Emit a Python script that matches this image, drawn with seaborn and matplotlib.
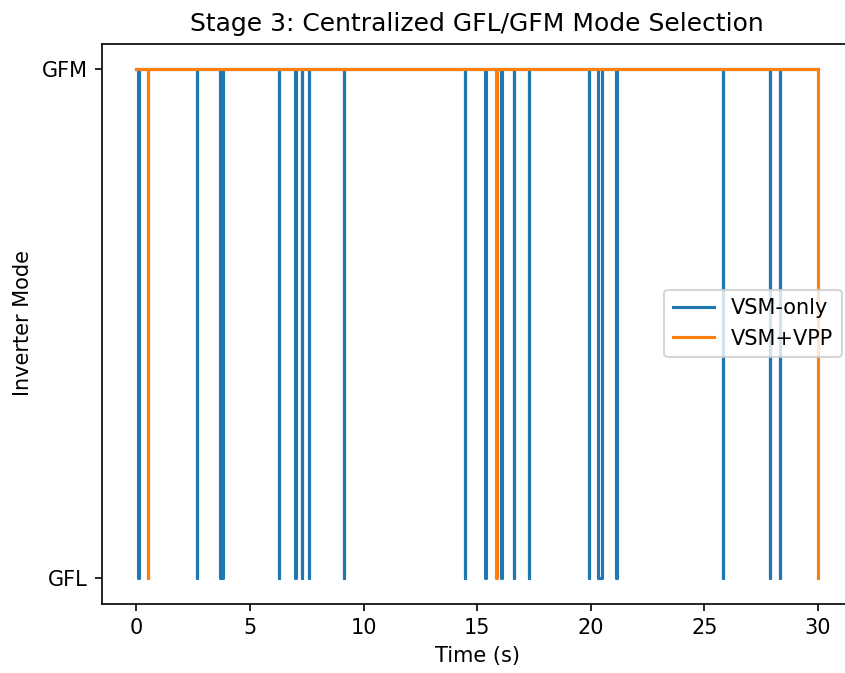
import matplotlib
matplotlib.use("Agg")
import matplotlib.pyplot as plt
import seaborn as sns
import pandas as pd

# Mode: 1 = GFM, 0 = GFL ; each dip = (start, end) spent in GFL
series_names = ["VSM-only", "VSM+VPP"]
vsm_dip_start = [0.09, 2.65, 3.70, 6.26, 6.99, 7.28, 7.59, 9.12, 14.45, 15.36,
                 16.07, 16.62, 17.27, 19.91, 20.30, 21.13, 25.80, 27.89, 28.33]
vsm_dip_end = [0.11, 2.67, 3.82, 6.28, 7.01, 7.30, 7.61, 9.14, 14.47, 15.38,
               16.09, 16.64, 17.29, 19.93, 20.48, 21.15, 25.82, 27.91, 28.35]
vsm_final_mode = 1
vpp_dip_start = [0.50, 15.84]
vpp_dip_end = [0.52, 15.86]
vpp_final_mode = 0
t_start, t_end = 0.0, 30.0
ytick_labels = ["GFL", "GFM"]


def build(name, starts, ends, final_mode):
    t = [t_start]
    m = [1]
    for s, e in zip(starts, ends):
        t += [s, e]
        m += [0, 1]
    t.append(t_end)
    m.append(final_mode)
    return pd.DataFrame({"Time": t, "Mode": m, "Series": name})


df = pd.concat([
    build(series_names[0], vsm_dip_start, vsm_dip_end, vsm_final_mode),
    build(series_names[1], vpp_dip_start, vpp_dip_end, vpp_final_mode),
], ignore_index=True)

fig = plt.figure(figsize=(845 / 150, 673 / 150), dpi=150)
ax = fig.add_axes([102.3 / 845, 1 - 603.5 / 673, 749.7 / 845, 560 / 673])

sns.lineplot(data=df, x="Time", y="Mode", hue="Series",
             palette=["#1f77b4", "#ff7f0e"], estimator=None, sort=False,
             drawstyle="steps-post", linewidth=1.5, ax=ax)

ax.set_yticks([0, 1])
ax.set_yticklabels(ytick_labels)
ax.set_xticks([0, 5, 10, 15, 20, 25, 30])
ax.set_xlim(-1.5, 31.5)
ax.set_ylim(-0.05, 1.05)
ax.set_xlabel("Time (s)")
ax.set_ylabel("Inverter Mode")
ax.set_title("Stage 3: Centralized GFL/GFM Mode Selection")
sns.move_legend(ax, "center right", title=None)

fig.savefig("out.png", dpi=150)
